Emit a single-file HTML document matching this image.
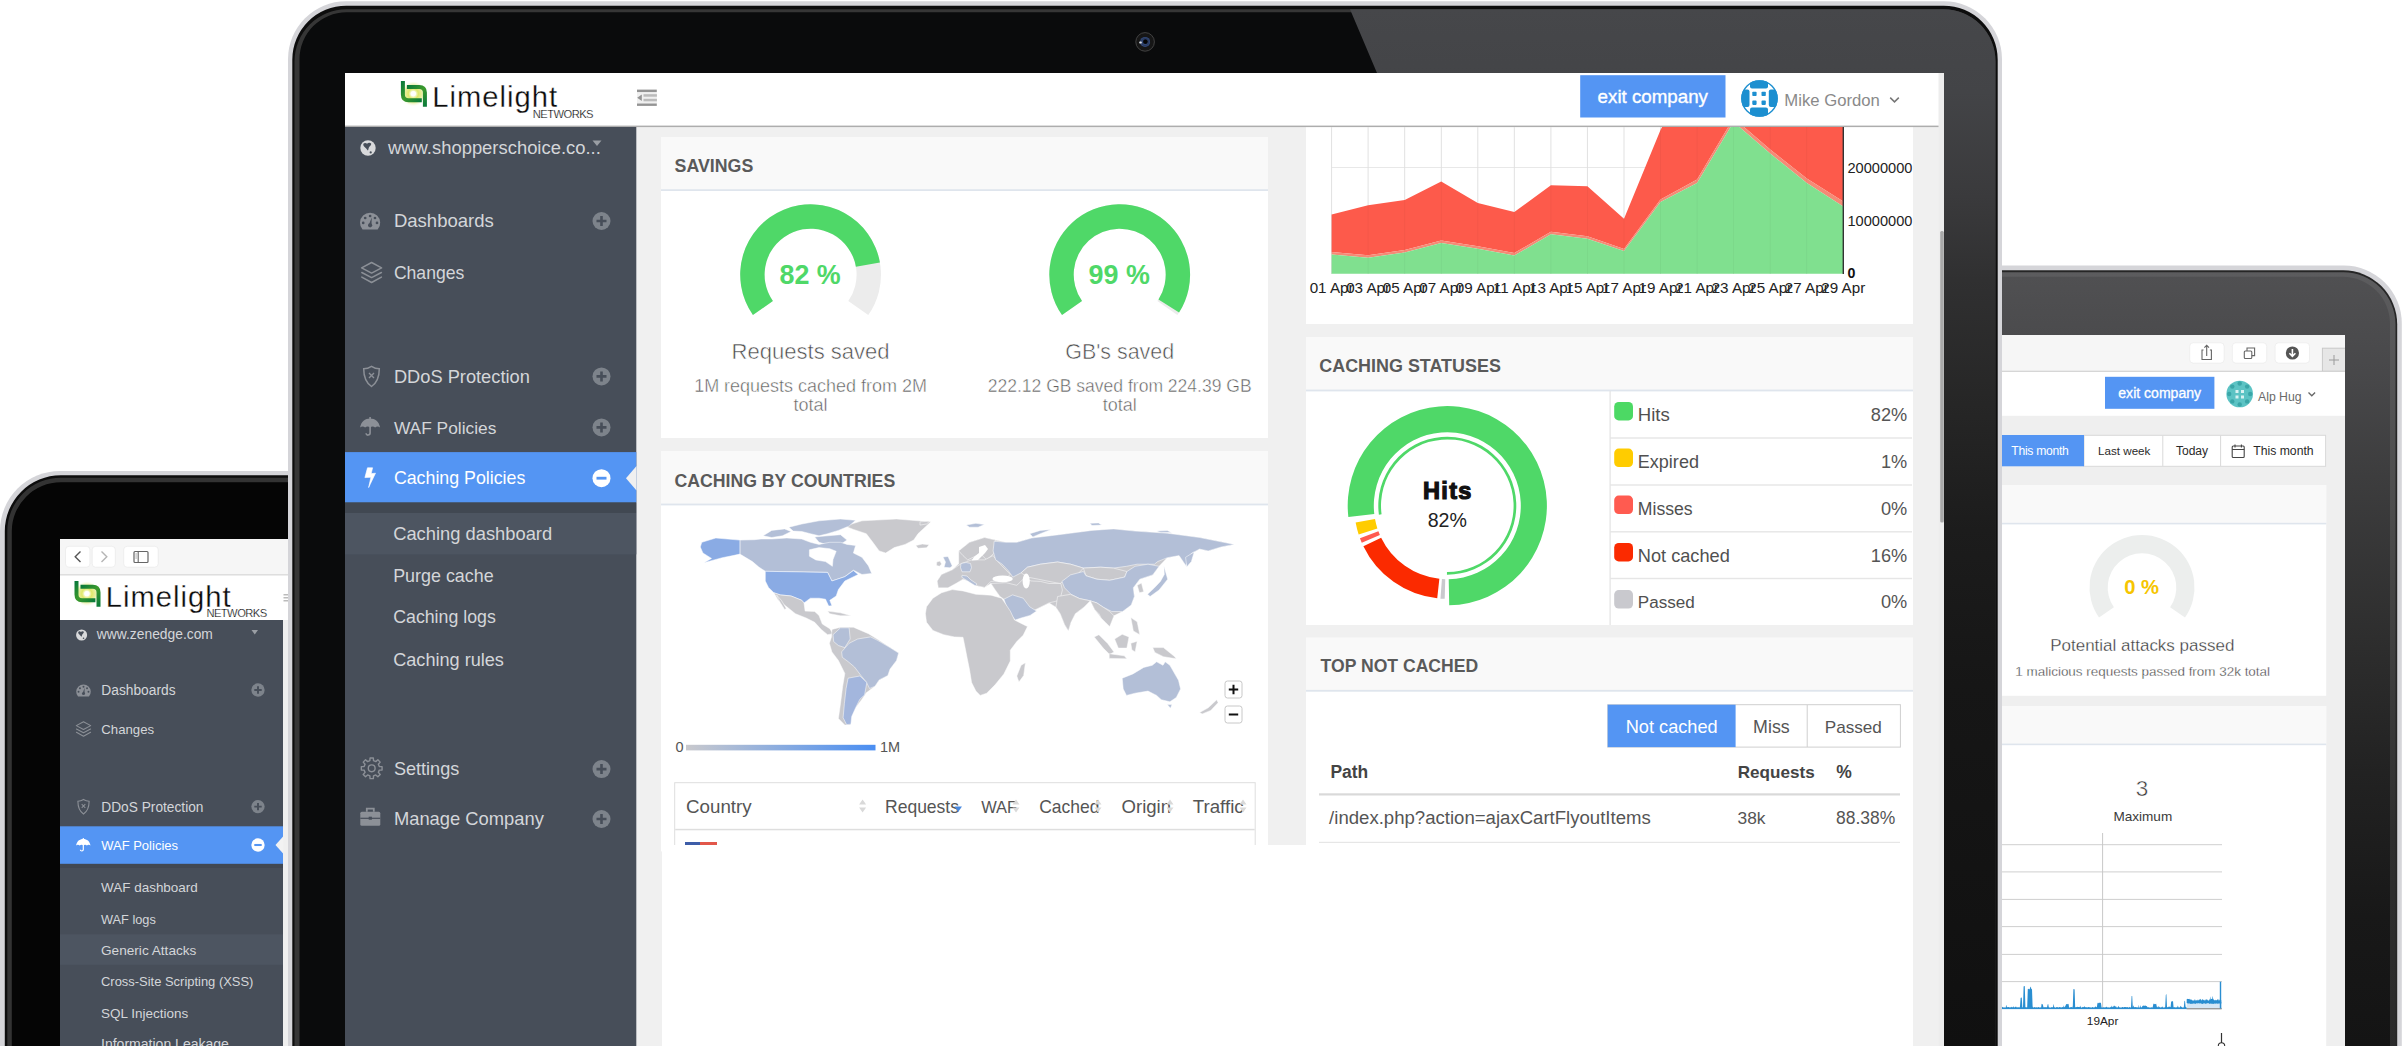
<!DOCTYPE html>
<html lang="en"><head><meta charset="utf-8"><title>Limelight Networks - Caching dashboard</title>
<style>
*{margin:0;padding:0}
html,body{width:2408px;height:1046px;overflow:hidden;background:#fff}
svg{display:block;position:absolute;left:0;top:0}
</style></head><body>
<svg width="2408" height="1046" viewBox="0 0 2408 1046" font-family="'Liberation Sans', Arial, sans-serif">
<defs>
<clipPath id="cLT"><rect x="60" y="539" width="228" height="520"/></clipPath>
<clipPath id="cRT"><rect x="2002" y="335" width="343" height="720"/></clipPath>
<clipPath id="cLP"><rect x="345" y="73" width="1599" height="980"/></clipPath>
<clipPath id="cLPc"><rect x="345" y="127" width="1598" height="920"/></clipPath>
<clipPath id="cChart"><rect x="1306" y="127" width="607" height="200"/></clipPath>
<clipPath id="cPlot"><rect x="1331" y="127" width="513" height="147"/></clipPath>
<linearGradient id="gRTb" x1="0" y1="0" x2="0" y2="1">
 <stop offset="0" stop-color="#505052"/><stop offset="0.12" stop-color="#48484a"/><stop offset="0.25" stop-color="#3d3d3e"/>
 <stop offset="0.45" stop-color="#2e2e2e"/><stop offset="0.62" stop-color="#222"/><stop offset="0.8" stop-color="#181818"/><stop offset="1" stop-color="#131313"/></linearGradient>
<linearGradient id="gRTr" x1="0" y1="0" x2="0" y2="1">
 <stop offset="0" stop-color="#5c5c5e"/><stop offset="0.3" stop-color="#4c4c4c"/><stop offset="0.7" stop-color="#2e2e2e"/><stop offset="1" stop-color="#2a2a2a"/></linearGradient>
<linearGradient id="gLPrefl" x1="0" y1="0" x2="0" y2="1">
 <stop offset="0" stop-color="#46474a"/><stop offset="0.08" stop-color="#434447"/><stop offset="0.18" stop-color="#3a3a3c"/>
 <stop offset="0.26" stop-color="#303031"/><stop offset="0.38" stop-color="#262626"/><stop offset="0.5" stop-color="#1c1c1c"/>
 <stop offset="0.65" stop-color="#161616"/><stop offset="1" stop-color="#101010"/></linearGradient>
<linearGradient id="gLegend" x1="0" y1="0" x2="1" y2="0">
 <stop offset="0" stop-color="#c9c9cd"/><stop offset="1" stop-color="#4a8ef2"/></linearGradient>
<radialGradient id="gLogo" cx="0.5" cy="0.5" r="0.5">
 <stop offset="0" stop-color="#fff"/><stop offset="0.18" stop-color="#fbfde2"/><stop offset="0.4" stop-color="#dfe86a"/>
 <stop offset="0.7" stop-color="#e2ea86" stop-opacity="0.75"/><stop offset="1" stop-color="#f4f7d0" stop-opacity="0"/></radialGradient>
<linearGradient id="gLogoG" x1="0" y1="0" x2="1" y2="1">
 <stop offset="0" stop-color="#0a7a3a"/><stop offset="0.5" stop-color="#3c9a2c"/><stop offset="1" stop-color="#0a7a3a"/></linearGradient>
<radialGradient id="gCam" cx="0.5" cy="0.5" r="0.5">
 <stop offset="0" stop-color="#0c0f18"/><stop offset="0.35" stop-color="#24324f"/><stop offset="0.55" stop-color="#151820"/>
 <stop offset="0.8" stop-color="#2b2b2d"/><stop offset="1" stop-color="#161616"/></radialGradient>
</defs>
<path d="M0,1171 V531 A60,60 0 0 1 60,471 H400 A0,0 0 0 1 400,471 V1171 Z" fill="#d5d5d9" />
<path d="M4.8,1175.3 V531.3 A56,56 0 0 1 60.8,475.3 H400.8 A0,0 0 0 1 400.8,475.3 V1175.3 Z" fill="#0d0d0d" />
<path d="M7.3,1177.8 V531.3 A53.5,53.5 0 0 1 60.8,477.8 H400.3 A0,0 0 0 1 400.3,477.8 V1177.8 Z" fill="#333" />
<path d="M11.8,1182.3 V531.3 A49,49 0 0 1 60.8,482.3 H400.8 A0,0 0 0 1 400.8,482.3 V1182.3 Z" fill="#050505" />
<path d="M1960,1065.5 V265.5 A0,0 0 0 1 1960,265.5 H2343.8 A58,58 0 0 1 2401.8,323.5 V1065.5 Z" fill="#d5d5d9" />
<path d="M1960,1070.3 V270.3 A0,0 0 0 1 1960,270.3 H2343.2 A54,54 0 0 1 2397.2,324.3 V1070.3 Z" fill="#262626" />
<path d="M1960,1072.3 V272.3 A0,0 0 0 1 1960,272.3 H2343.5 A52,52 0 0 1 2395.5,324.3 V1072.3 Z" fill="url(#gRTr)" />
<path d="M1960,1076.8 V276.8 A0,0 0 0 1 1960,276.8 H2343 A47,47 0 0 1 2390,323.8 V1076.8 Z" fill="url(#gRTb)" />
<g clip-path="url(#cLT)">
<rect x="60.0" y="539.0" width="230.0" height="520.0" fill="#efefef"/>
<rect x="60.0" y="539.0" width="230.0" height="36.0" fill="#f6f6f6"/>
<rect x="60.0" y="574.5" width="230.0" height="1.0" fill="#c6c6c6"/>
<rect x="65.5" y="546.3" width="24.4" height="20.9" fill="#fff" rx="3.5" stroke="#e6e6e6" stroke-width="0.6"/>
<rect x="92.2" y="546.3" width="23.1" height="20.9" fill="#fff" rx="3.5" stroke="#e6e6e6" stroke-width="0.6"/>
<rect x="123.7" y="546.3" width="34.5" height="20.9" fill="#fff" rx="3.5" stroke="#e6e6e6" stroke-width="0.6"/>
<path d="M80.5,551.5 L75.2,556.8 L80.5,562.1" fill="none" stroke="#555" stroke-width="1.4"/>
<path d="M101.5,551.5 L106.8,556.8 L101.5,562.1" fill="none" stroke="#b5b5b5" stroke-width="1.4"/>
<rect x="134" y="551.5" width="14" height="11" fill="none" stroke="#666" stroke-width="1.2" rx="1"/>
<path d="M138.2,551.5 V562.5" stroke="#666" stroke-width="1.1"/><path d="M135.3,554 H137 M135.3,556 H137 M135.3,558 H137" stroke="#888" stroke-width="0.7"/>
<rect x="60.0" y="575.5" width="230.0" height="44.5" fill="#fff"/>
<g transform="translate(74.6,580.9) scale(1.0)"><circle cx="12.3" cy="12.8" r="12.5" fill="url(#gLogo)"/><path d="M1.9,0 V13.5 Q1.9,19.3 7.5,19.3 H20.8" fill="none" stroke="url(#gLogoG)" stroke-width="4"/><path d="M5.9,5.9 H18.2 Q23.9,5.9 23.9,11.6 V25.8" fill="none" stroke="url(#gLogoG)" stroke-width="4"/><circle cx="12.3" cy="12.6" r="2.6" fill="#fff" opacity="0.9"/><text x="31.2" y="25.7" font-size="29.20" fill="#0b0b0b" letter-spacing="1.0" stroke="#fff" stroke-width="0.3">Limelight</text><text x="131.8" y="36.6" font-size="11.20" fill="#000" letter-spacing="-0.55" stroke="#fff" stroke-width="0.22">NETWORKS</text></g>
<rect x="283.5" y="594.0" width="4.5" height="1.5" fill="#bbb"/><rect x="283.5" y="597.0" width="4.5" height="1.5" fill="#bbb"/><rect x="283.5" y="600.0" width="4.5" height="1.5" fill="#bbb"/>
<rect x="60.0" y="620.0" width="223.0" height="440.0" fill="#474e59"/>
<g transform="translate(81.6,635.0) scale(0.72)"><circle r="7.7" fill="#d8d9db"/><path d="M-4.6,-4.2 C-3.6,-5.6 -1.8,-5.2 -0.9,-4.2 C0,-5.4 2,-5.6 3.2,-4.4 C3.4,-2.6 1.6,-1.8 0.9,-0.6 C0.3,0.6 0.6,2 -0.2,2.4 C-1.4,1.4 -2.2,0 -3.4,-0.9 C-4.4,-1.8 -5,-3 -4.6,-4.2 Z" fill="#474e59"/><circle cx="2.7" cy="4.4" r="1.1" fill="#474e59"/></g>
<text x="96.8" y="639.3" font-size="13.84" fill="#d4d6d9">www.zenedge.com</text>
<path d="M251.5,630 L258,630 L254.75,634.5 Z" fill="#9a9ea4"/>
<g transform="translate(83.5,691.8) scale(0.72)"><path d="M-7.56,6.7 A10.1,10.1 0 1 1 7.56,6.7 Z" fill="#8c9097"/><circle cx="-6.9" cy="-0.0" r="1.35" fill="#474e59"/><circle cx="-4.9" cy="-4.9" r="1.35" fill="#474e59"/><circle cx="0.0" cy="-6.9" r="1.35" fill="#474e59"/><circle cx="4.9" cy="-4.9" r="1.35" fill="#474e59"/><circle cx="6.9" cy="0.0" r="1.35" fill="#474e59"/><path d="M-1.3,2.2 L1.6,-5.5 L1.4,2.2 Z" fill="#474e59"/><circle cx="0" cy="2.4" r="2.1" fill="#474e59"/></g>
<text x="101.3" y="695.2" font-size="13.78" fill="#d4d6d9">Dashboards</text>
<g transform="translate(258.0,690.0) scale(0.74)"><circle r="9" fill="#7d838b"/><path d="M-5,0 H5 M0,-5 V5" stroke="#474e59" stroke-width="2.6"/></g>
<g transform="translate(83.5,729.0) scale(0.72)"><path d="M-10,-4.7 L0,-10 L10,-4.7 L0,0.6 Z" fill="none" stroke="#8c9097" stroke-width="1.5" stroke-linejoin="round"/><path d="M-9.8,0 L0,5.1 L9.8,0 M-9.8,4.6 L0,10 L9.8,4.6" fill="none" stroke="#8c9097" stroke-width="1.5" stroke-linejoin="round" stroke-linecap="round"/></g>
<text x="101.3" y="734.0" font-size="13.19" fill="#d4d6d9">Changes</text>
<g transform="translate(83.5,806.8) scale(0.72)"><path d="M0,-10.2 C2.8,-8.4 5.4,-7.8 7.8,-7.8 C7.8,2 4.6,6.8 0,10 C-4.6,6.8 -7.8,2 -7.8,-7.8 C-5.4,-7.8 -2.8,-8.4 0,-10.2 Z" fill="none" stroke="#8c9097" stroke-width="1.5"/><path d="M-2.5,-3.6 L2.5,1.4 M2.5,-3.6 L-2.5,1.4" stroke="#8c9097" stroke-width="1.4"/></g>
<text x="101.3" y="811.8" font-size="13.72" fill="#d4d6d9">DDoS Protection</text>
<g transform="translate(258.0,806.6) scale(0.74)"><circle r="9" fill="#7d838b"/><path d="M-5,0 H5 M0,-5 V5" stroke="#474e59" stroke-width="2.6"/></g>
<rect x="60.0" y="826.3" width="223.0" height="37.6" fill="#5495f3"/>
<g transform="translate(83.3,845.5) scale(0.72)"><path d="M-10,0 C-9,-6 -5,-9 0,-9 C5,-9 9,-6 10,0 C8.5,-1.5 6.5,-1.5 5,0 C3.5,-1.5 1.5,-1.5 0,0 C-1.5,-1.5 -3.5,-1.5 -5,0 C-6.5,-1.5 -8.5,-1.5 -10,0 Z" fill="#fff"/><path d="M0,-10.5 V-8.5 M0,-1 V5.6 C0,8.2 -4,8.2 -4,5.8" fill="none" stroke="#fff" stroke-width="1.6"/></g>
<text x="101.2" y="849.9" font-size="13.00" fill="#fff">WAF Policies</text>
<g transform="translate(258.0,845.0) scale(0.74)"><circle r="9" fill="#fff"/><path d="M-5,0 H5" stroke="#5495f3" stroke-width="2.8"/></g>
<path d="M283.5,836 L275.5,845 L283.5,854 Z" fill="#f2f2f2"/>
<rect x="60.0" y="863.9" width="223.0" height="4.0" fill="#414852"/>
<rect x="60.0" y="934.3" width="223.0" height="30.5" fill="#4d5561"/>
<text x="101.0" y="891.9" font-size="13.47" fill="#d4d6d9">WAF dashboard</text>
<text x="101.0" y="923.7" font-size="12.78" fill="#d4d6d9">WAF logs</text>
<text x="101.0" y="954.9" font-size="13.64" fill="#d4d6d9">Generic Attacks</text>
<text x="101.0" y="986.0" font-size="12.94" fill="#d4d6d9">Cross-Site Scripting (XSS)</text>
<text x="101.0" y="1017.7" font-size="13.49" fill="#d4d6d9">SQL Injections</text>
<text x="101.0" y="1048.5" font-size="14.04" fill="#d4d6d9">Information Leakage</text>
</g>
<g clip-path="url(#cRT)">
<rect x="2002.0" y="335.0" width="343.0" height="720.0" fill="#efefef"/>
<rect x="2002.0" y="335.0" width="343.0" height="36.0" fill="#f6f6f6"/>
<rect x="2002.0" y="370.8" width="343.0" height="1.0" fill="#c4c4c4"/>
<rect x="2189.7" y="342.8" width="34.4" height="20.3" fill="#fff" rx="3.5" stroke="#e8e8e8" stroke-width="0.6"/>
<rect x="2232.3" y="342.8" width="34.4" height="20.3" fill="#fff" rx="3.5" stroke="#e8e8e8" stroke-width="0.6"/>
<rect x="2275.1" y="342.8" width="34.4" height="20.3" fill="#fff" rx="3.5" stroke="#e8e8e8" stroke-width="0.6"/>
<path d="M2203.5,350 H2202 V359.5 H2211.4 V350 H2209.9" fill="none" stroke="#666" stroke-width="1.1"/><path d="M2206.7,356 V345.3 M2204.4,347.6 L2206.7,345.3 L2209,347.6" fill="none" stroke="#666" stroke-width="1.1"/>
<rect x="2244.3" y="351" width="7.5" height="7.5" fill="none" stroke="#666" stroke-width="1.1" rx="1"/><path d="M2247,351 V348 H2254.6 V355.6 H2251.8" fill="none" stroke="#666" stroke-width="1.1"/>
<circle cx="2292.4" cy="353.0" r="6.6" fill="#555" /><path d="M2292.4,349 V356 M2289.4,353.3 L2292.4,356.3 L2295.4,353.3" fill="none" stroke="#fff" stroke-width="1.6"/>
<rect x="2322.4" y="348.2" width="24.0" height="23.0" fill="#e6e6e6" stroke="#c8c8c8" stroke-width="1"/>
<path d="M2329,360 H2339 M2334,355 V365" stroke="#9a9a9a" stroke-width="1"/>
<rect x="2002.0" y="371.8" width="343.0" height="44.0" fill="#fff"/>
<rect x="2105.0" y="376.8" width="109.4" height="32.0" fill="#5495f3"/>
<text x="2159.7" y="398.2" font-size="14.05" fill="#fff" text-anchor="middle" stroke="#fff" stroke-width="0.3">exit company</text>
<circle cx="2239.7" cy="394.0" r="13.3" fill="#5cc3c4" />
<circle cx="2250.2" cy="394.0" r="2.2" fill="#3aa6a8" />
<circle cx="2247.1" cy="386.6" r="2.2" fill="#3aa6a8" />
<circle cx="2239.7" cy="383.5" r="2.2" fill="#3aa6a8" />
<circle cx="2232.3" cy="386.6" r="2.2" fill="#3aa6a8" />
<circle cx="2229.2" cy="394.0" r="2.2" fill="#3aa6a8" />
<circle cx="2232.3" cy="401.4" r="2.2" fill="#3aa6a8" />
<circle cx="2239.7" cy="404.5" r="2.2" fill="#3aa6a8" />
<circle cx="2247.1" cy="401.4" r="2.2" fill="#3aa6a8" />
<rect x="2235.5" y="390.0" width="3.0" height="3.0" fill="#d9f2f2"/><rect x="2241.0" y="390.0" width="3.0" height="3.0" fill="#d9f2f2"/><rect x="2235.5" y="395.5" width="3.0" height="3.0" fill="#d9f2f2"/><rect x="2241.0" y="395.5" width="3.0" height="3.0" fill="#d9f2f2"/>
<text x="2258.0" y="401.2" font-size="12.25" fill="#6a6a6a">Alp Hug</text>
<path d="M2308.5,392.5 L2311.8,395.8 L2315.1,392.5" fill="none" stroke="#666" stroke-width="1.3"/>
<rect x="2084.0" y="435.3" width="241.6" height="31.0" fill="#fff" stroke="#d9d9d9" stroke-width="1"/>
<rect x="2002.0" y="435.0" width="82.0" height="31.3" fill="#5495f3"/>
<rect x="2162.3" y="435.5" width="1.0" height="30.5" fill="#d9d9d9"/><rect x="2220.1" y="435.5" width="1.0" height="30.5" fill="#d9d9d9"/>
<text x="2011.3" y="455.2" font-size="12.17" fill="#fff" letter-spacing="-0.3">This month</text>
<text x="2098.1" y="455.2" font-size="11.62" fill="#2a2a2a">Last week</text>
<text x="2175.9" y="455.2" font-size="12.07" fill="#2a2a2a">Today</text>
<text x="2253.2" y="455.2" font-size="12.23" fill="#2a2a2a">This month</text>
<rect x="2232.2" y="446" width="12" height="11.5" fill="none" stroke="#444" stroke-width="1.1" rx="1"/><path d="M2232.2,449.5 H2244.2 M2235,444.5 V447.5 M2241.4,444.5 V447.5" stroke="#444" stroke-width="1.1"/>
<rect x="2002.0" y="485.0" width="324.2" height="210.8" fill="#fff"/>
<rect x="2002.0" y="485.0" width="324.2" height="38.0" fill="#f9f9f9"/>
<rect x="2002.0" y="522.8" width="324.2" height="1.6" fill="#dfe5ed"/>
<path d="M2098.99,617.61 A52.5,52.5 0 1 1 2185.01,617.61 L2170.10,607.17 A34.3,34.3 0 1 0 2113.90,607.17 Z" fill="#eceeed" />
<text x="2141.7" y="594.3" font-size="20.25" fill="#f6c500" font-weight="bold" text-anchor="middle">0 %</text>
<text x="2142.3" y="650.8" font-size="16.99" fill="#3a3a3a" text-anchor="middle" stroke="#fff" stroke-width="0.3">Potential attacks passed</text>
<text x="2142.7" y="675.7" font-size="13.45" fill="#3a3a3a" text-anchor="middle" stroke="#fff" stroke-width="0.3">1 malicious requests passed from 32k total</text>
<rect x="2002.0" y="706.0" width="324.2" height="360.0" fill="#fff"/>
<rect x="2002.0" y="706.0" width="324.2" height="38.0" fill="#f9f9f9"/>
<rect x="2002.0" y="743.6" width="324.2" height="1.6" fill="#dfe5ed"/>
<text x="2142.0" y="795.6" font-size="22.50" fill="#333" text-anchor="middle" stroke="#fff" stroke-width="0.5">3</text>
<text x="2142.8" y="821.3" font-size="13.57" fill="#3a3a3a" text-anchor="middle">Maximum</text>
<rect x="2002.0" y="844.2" width="220.0" height="1.0" fill="#cfcfcf"/>
<rect x="2002.0" y="871.4" width="220.0" height="1.0" fill="#cfcfcf"/>
<rect x="2002.0" y="898.9" width="220.0" height="1.0" fill="#cfcfcf"/>
<rect x="2002.0" y="926.1" width="220.0" height="1.0" fill="#cfcfcf"/>
<rect x="2002.0" y="953.9" width="220.0" height="1.0" fill="#cfcfcf"/>
<rect x="2002.0" y="981.1" width="220.0" height="1.0" fill="#cfcfcf"/>
<rect x="2102.1" y="833.0" width="1.0" height="175.5" fill="#c8c8c8"/>
<rect x="2002.0" y="1007.7" width="220.0" height="1.2" fill="#bcbcbc"/>
<polygon points="2002.0,1008.5 2002.0,1007.7 2002.6,1006.8 2003.2,1007.6 2003.8,1008.2 2004.4,1007.4 2005.0,1008.3 2005.6,1008.3 2006.2,1004.8 2006.8,1006.8 2007.4,1007.4 2008.0,1007.1 2008.6,1006.9 2009.2,1007.7 2009.8,1007.6 2010.4,1007.6 2011.0,1007.7 2011.6,1006.7 2012.2,1007.0 2012.8,1007.9 2013.4,1006.1 2014.0,1007.8 2014.6,1007.8 2015.2,1006.5 2015.8,1006.9 2016.4,1006.7 2017.0,1008.4 2017.6,1007.1 2018.2,1008.3 2018.8,1006.8 2019.4,1008.3 2020.0,1006.3 2020.6,997.9 2021.2,997.6 2021.8,997.7 2022.4,1008.0 2023.0,1007.1 2023.6,986.4 2024.2,986.1 2024.8,986.3 2025.4,1007.1 2026.0,1007.7 2026.6,1007.5 2027.2,1007.4 2027.8,989.0 2028.4,988.7 2029.0,989.3 2029.6,989.2 2030.2,987.4 2030.8,986.5 2031.4,989.2 2032.0,989.1 2032.6,1006.2 2033.2,1008.4 2033.8,1007.5 2034.4,1007.4 2035.0,1006.8 2035.6,1008.5 2036.2,1007.3 2036.8,1007.8 2037.4,1008.3 2038.0,1006.9 2038.6,1007.3 2039.2,1007.4 2039.8,1008.5 2040.4,1007.2 2041.0,1008.5 2041.6,1003.8 2042.2,1004.2 2042.8,1004.2 2043.4,1007.1 2044.0,1007.9 2044.6,1006.9 2045.2,1007.7 2045.8,1006.9 2046.4,1007.4 2047.0,1007.5 2047.6,1004.5 2048.2,1003.9 2048.8,1007.2 2049.4,1007.7 2050.0,1008.3 2050.6,1008.4 2051.2,1007.6 2051.8,1007.2 2052.4,1007.4 2053.0,1007.3 2053.6,1003.7 2054.2,1006.9 2054.8,1007.7 2055.4,1007.9 2056.0,1008.1 2056.6,1007.0 2057.2,1006.9 2057.8,1007.5 2058.4,1008.3 2059.0,1007.0 2059.6,1007.2 2060.2,1006.9 2060.8,1008.0 2061.4,1007.8 2062.0,1007.6 2062.6,1007.0 2063.2,1007.6 2063.8,1005.2 2064.4,1007.5 2065.0,1006.7 2065.6,1005.6 2066.2,1004.1 2066.8,1004.2 2067.4,1004.2 2068.0,1003.7 2068.6,1004.2 2069.2,1008.2 2069.8,1007.9 2070.4,1007.6 2071.0,1007.1 2071.6,1007.1 2072.2,1008.3 2072.8,1006.1 2073.4,988.9 2074.0,989.3 2074.6,989.2 2075.2,1008.1 2075.8,1007.0 2076.4,1007.2 2077.0,1006.9 2077.6,1006.7 2078.2,1007.1 2078.8,1006.9 2079.4,1006.8 2080.0,1007.5 2080.6,1005.6 2081.2,1008.4 2081.8,1008.2 2082.4,1006.7 2083.0,1007.6 2083.6,1007.0 2084.2,1006.8 2084.8,1006.2 2085.4,1007.6 2086.0,1007.2 2086.6,1007.6 2087.2,1007.5 2087.8,1007.8 2088.4,1006.9 2089.0,1007.0 2089.6,1007.6 2090.2,1008.1 2090.8,1007.6 2091.4,1008.5 2092.0,1007.6 2092.6,1007.1 2093.2,1007.6 2093.8,1008.4 2094.4,1007.8 2095.0,1006.8 2095.6,1006.6 2096.2,1007.0 2096.8,1007.6 2097.4,1003.4 2098.0,1002.5 2098.6,1003.2 2099.2,1003.1 2099.8,1002.6 2100.4,1002.7 2101.0,1002.9 2101.6,1007.8 2102.2,1008.2 2102.8,1007.4 2103.4,1007.5 2104.0,1007.4 2104.6,1008.1 2105.2,1007.0 2105.8,1007.9 2106.4,1006.8 2107.0,1006.7 2107.6,1008.3 2108.2,1007.2 2108.8,1008.3 2109.4,1007.7 2110.0,1008.3 2110.6,1006.8 2111.2,1007.3 2111.8,1005.5 2112.4,1007.1 2113.0,1007.3 2113.6,1006.1 2114.2,1005.6 2114.8,1006.3 2115.4,1006.7 2116.0,1005.9 2116.6,1007.7 2117.2,1007.9 2117.8,1007.6 2118.4,1005.7 2119.0,1007.0 2119.6,1007.7 2120.2,1007.8 2120.8,1008.2 2121.4,1008.5 2122.0,1007.1 2122.6,1007.0 2123.2,1007.8 2123.8,1007.6 2124.4,1007.1 2125.0,1006.9 2125.6,1007.1 2126.2,1007.8 2126.8,1006.9 2127.4,1007.1 2128.0,1007.8 2128.6,1008.4 2129.2,1006.8 2129.8,1007.4 2130.4,1008.1 2131.0,1007.3 2131.6,996.0 2132.2,996.1 2132.8,1007.2 2133.4,1005.2 2134.0,1007.2 2134.6,1007.3 2135.2,1007.2 2135.8,1006.9 2136.4,1007.6 2137.0,1007.5 2137.6,1007.4 2138.2,1008.4 2138.8,1004.8 2139.4,1008.2 2140.0,1008.2 2140.6,1005.0 2141.2,1007.7 2141.8,1007.4 2142.4,1006.1 2143.0,1005.8 2143.6,1005.5 2144.2,1005.9 2144.8,1005.6 2145.4,1005.6 2146.0,1006.0 2146.6,1006.0 2147.2,1006.8 2147.8,1007.7 2148.4,1007.0 2149.0,1008.3 2149.6,1007.7 2150.2,1008.4 2150.8,1008.3 2151.4,1007.3 2152.0,1008.0 2152.6,1007.7 2153.2,1004.5 2153.8,1003.6 2154.4,1004.1 2155.0,1004.2 2155.6,1004.1 2156.2,1003.7 2156.8,1006.7 2157.4,1006.8 2158.0,1008.0 2158.6,1006.0 2159.2,1006.7 2159.8,1007.5 2160.4,1007.8 2161.0,1008.1 2161.6,1007.2 2162.2,1006.3 2162.8,1007.4 2163.4,1008.1 2164.0,1008.0 2164.6,1007.8 2165.2,1006.7 2165.8,994.9 2166.4,994.1 2167.0,1006.7 2167.6,1007.5 2168.2,1007.3 2168.8,1006.6 2169.4,1006.5 2170.0,1007.2 2170.6,1007.1 2171.2,1000.9 2171.8,1001.7 2172.4,1001.2 2173.0,1001.1 2173.6,1007.8 2174.2,1006.9 2174.8,1007.8 2175.4,1007.8 2176.0,1007.8 2176.6,1007.5 2177.2,1007.5 2177.8,1005.6 2178.4,1006.9 2179.0,1008.5 2179.6,1007.5 2180.2,1006.8 2180.8,1005.7 2181.4,1006.9 2182.0,1007.2 2182.6,1008.3 2183.2,1008.2 2183.8,1007.3 2184.4,1001.0 2185.0,1000.8 2185.6,1006.8 2186.2,1007.6 2186.5,1008.5" fill="#2a8ed1" />
<rect x="2002.0" y="1007.6" width="185.0" height="1.5" fill="#2a8ed1"/>
<rect x="2186.7" y="1002.0" width="35.0" height="6.5" fill="#d5e7f6"/>
<polygon points="2186.7,1003.0 2186.7,999.2 2187.2,998.8 2187.7,999.0 2188.2,998.9 2188.7,999.0 2189.2,998.7 2189.7,999.6 2190.2,999.0 2190.7,999.9 2191.2,999.2 2191.7,1000.0 2192.2,1000.4 2192.7,1000.2 2193.2,1000.7 2193.7,1000.5 2194.2,999.1 2194.7,1000.7 2195.2,999.5 2195.7,1000.7 2196.2,1000.4 2196.7,1000.3 2197.2,999.5 2197.7,1000.4 2198.2,1000.4 2198.7,1000.1 2199.2,999.0 2199.7,1000.2 2200.2,998.8 2200.7,999.6 2201.2,999.7 2201.7,1000.7 2202.2,999.0 2202.7,999.6 2203.2,1000.2 2203.7,999.4 2204.2,1000.8 2204.7,1000.0 2205.2,999.2 2205.7,1000.5 2206.2,1000.1 2206.7,998.9 2207.2,999.4 2207.7,1000.2 2208.2,1000.5 2208.7,1000.8 2209.2,998.9 2209.7,1000.6 2210.2,996.2 2210.7,999.7 2211.2,998.7 2211.7,998.9 2212.2,999.1 2212.7,995.8 2213.2,999.0 2213.7,999.6 2214.2,1000.5 2214.7,1000.1 2215.2,1000.6 2215.7,999.8 2216.2,1000.0 2216.7,1000.6 2217.2,999.8 2217.7,999.0 2218.2,1000.8 2218.7,999.2 2219.2,999.6 2219.7,1000.8 2220.2,999.0 2220.7,999.4 2221.2,1000.0 2221.4,1003.5 2220.5,1003.4 2219.6,1003.5 2218.7,1003.5 2217.8,1003.7 2216.9,1003.4 2216.0,1003.4 2215.1,1003.8 2214.2,1003.5 2213.3,1004.0 2212.4,1003.7 2211.5,1003.8 2210.6,1003.5 2209.7,1003.9 2208.8,1003.3 2207.9,1003.3 2207.0,1003.3 2206.1,1003.7 2205.2,1003.8 2204.3,1003.3 2203.4,1003.5 2202.5,1003.9 2201.6,1003.7 2200.7,1003.3 2199.8,1003.4 2198.9,1003.3 2198.0,1003.3 2197.1,1003.5 2196.2,1003.3 2195.3,1003.9 2194.4,1003.5 2193.5,1003.6 2192.6,1003.7 2191.7,1003.8 2190.8,1003.9 2189.9,1003.5 2189.0,1003.5 2188.1,1003.5 2187.2,1003.2" fill="#2a8ed1" />
<rect x="2186.7" y="1008.0" width="35.0" height="1.4" fill="#9a9a9a"/>
<rect x="2219.8" y="981.7" width="1.4" height="26.8" fill="#2a8ed1"/>
<text x="2102.6" y="1025.2" font-size="11.80" fill="#222" text-anchor="middle">19Apr</text>
<rect x="2220.9" y="1033.0" width="1.2" height="10.0" fill="#333"/><circle cx="2221.5" cy="1046.0" r="3.2" fill="none" stroke="#333" stroke-width="1.1"/>
</g>
<path d="M288,1101.3 V59.3 A58,58 0 0 1 346,1.3 H1944 A58,58 0 0 1 2002,59.3 V1101.3 Z" fill="#d5d5d9" />
<path d="M292.3,1105.7 V59.7 A54,54 0 0 1 346.3,5.7 H1943.7 A54,54 0 0 1 1997.7,59.7 V1105.7 Z" fill="#0d0d0d" />
<path d="M294.5,1109.3 V61.3 A52,52 0 0 1 346.5,9.3 H1943.5 A52,52 0 0 1 1995.5,61.3 V1109.3 Z" fill="#363636" />
<path d="M299.5,1112.3 V59.3 A47,47 0 0 1 346.5,12.3 H1943.5 A47,47 0 0 1 1990.5,59.3 V1112.3 Z" fill="#0a0b0c" />
<path d="M1350,9.3 H1943.5 A52,52 0 0 1 1995.5,61.3 V1050 H1944 V73 H1377 Z" fill="url(#gLPrefl)" />
<circle cx="1145.1" cy="41.9" r="9.3" fill="#161616" stroke="#474747" stroke-width="0.9"/><circle cx="1145.1" cy="41.9" r="5.0" fill="#30487a" /><circle cx="1145.4" cy="41.7" r="2.4" fill="#040404" /><circle cx="1145.1" cy="41.9" r="3.7" fill="none" stroke="#2a3550" stroke-width="0.8"/><rect x="1139.2" y="41.6" width="2.6" height="1.8" fill="#d8dde6" rx="0.6"/>
<g clip-path="url(#cLP)">
<rect x="345.0" y="73.0" width="1599.0" height="980.0" fill="#f0f0f0"/>
<rect x="661.0" y="137.0" width="607.0" height="301.0" fill="#fff"/><rect x="661.0" y="137.0" width="607.0" height="52.5" fill="#f9f9f9"/><rect x="661.0" y="189.2" width="607.0" height="1.8" fill="#dfe5ed"/>
<rect x="661.0" y="451.4" width="607.0" height="400.0" fill="#fff"/><rect x="661.0" y="451.4" width="607.0" height="52.5" fill="#f9f9f9"/><rect x="661.0" y="503.6" width="607.0" height="1.8" fill="#dfe5ed"/>
<rect x="1306.0" y="60.0" width="607.0" height="264.0" fill="#fff"/><rect x="1306.0" y="60.0" width="607.0" height="0.0" fill="#f9f9f9"/><rect x="1306.0" y="59.7" width="607.0" height="1.8" fill="#dfe5ed"/>
<rect x="1306.0" y="337.4" width="607.0" height="287.6" fill="#fff"/><rect x="1306.0" y="337.4" width="607.0" height="52.5" fill="#f9f9f9"/><rect x="1306.0" y="389.6" width="607.0" height="1.8" fill="#dfe5ed"/>
<rect x="1306.0" y="637.7" width="607.0" height="220.0" fill="#fff"/><rect x="1306.0" y="637.7" width="607.0" height="52.5" fill="#f9f9f9"/><rect x="1306.0" y="689.9" width="607.0" height="1.8" fill="#dfe5ed"/>
<rect x="662.0" y="845.0" width="1251.0" height="210.0" fill="#fff"/>
<rect x="345.0" y="73.0" width="1599.0" height="53.0" fill="#fff"/>
<rect x="345.0" y="125.6" width="1599.0" height="1.5" fill="#adadad"/>
<g transform="translate(401,81) scale(1.0)"><circle cx="12.3" cy="12.8" r="12.5" fill="url(#gLogo)"/><path d="M1.9,0 V13.5 Q1.9,19.3 7.5,19.3 H20.8" fill="none" stroke="url(#gLogoG)" stroke-width="4"/><path d="M5.9,5.9 H18.2 Q23.9,5.9 23.9,11.6 V25.8" fill="none" stroke="url(#gLogoG)" stroke-width="4"/><circle cx="12.3" cy="12.6" r="2.6" fill="#fff" opacity="0.9"/><text x="31.2" y="25.7" font-size="29.20" fill="#0b0b0b" letter-spacing="1.0" stroke="#fff" stroke-width="0.3">Limelight</text><text x="131.8" y="36.6" font-size="11.20" fill="#000" letter-spacing="-0.55" stroke="#fff" stroke-width="0.22">NETWORKS</text></g>
<rect x="637.0" y="89.6" width="19.8" height="2.5" fill="#949494"/><rect x="643.5" y="94.2" width="13.3" height="2.5" fill="#949494"/><rect x="643.5" y="98.8" width="13.3" height="2.5" fill="#949494"/><rect x="637.0" y="103.4" width="19.8" height="2.5" fill="#949494"/><rect x="637.0" y="92.1" width="19.8" height="11.3" fill="#e2e2e2" opacity="0.5"/>
<path d="M641.8,94.6 L637.2,97.8 L641.8,101 Z" fill="#949494"/>
<rect x="1580.2" y="75.2" width="145.3" height="42.3" fill="#5495f3"/>
<text x="1652.8" y="102.6" font-size="18.74" fill="#fff" text-anchor="middle" stroke="#fff" stroke-width="0.35">exit company</text>
<clipPath id="cAv"><circle cx="1759.5" cy="98.5" r="18.3"/></clipPath>
<circle cx="1759.5" cy="98.5" r="17.6" fill="#fff" stroke="#1c8fd0" stroke-width="1.4"/>
<g clip-path="url(#cAv)"><rect x="1750.0" y="79.0" width="18.0" height="9.5" fill="#1c8fd0" rx="2"/><rect x="1750.0" y="107.5" width="18.0" height="11.0" fill="#1c8fd0" rx="2"/><rect x="1740.0" y="89.5" width="9.5" height="17.5" fill="#1c8fd0" rx="2"/><rect x="1768.8" y="89.5" width="10.5" height="17.5" fill="#1c8fd0" rx="2"/></g>
<rect x="1752.3" y="91.7" width="4.3" height="4.3" fill="#1c8fd0" rx="0.8"/>
<rect x="1752.3" y="100.6" width="4.3" height="4.3" fill="#1c8fd0" rx="0.8"/>
<rect x="1761.5" y="91.7" width="4.3" height="4.3" fill="#1c8fd0" rx="0.8"/>
<rect x="1761.5" y="100.6" width="4.3" height="4.3" fill="#1c8fd0" rx="0.8"/>
<text x="1784.3" y="105.6" font-size="16.70" fill="#8a8a8a">Mike Gordon</text>
<path d="M1890.2,97.6 L1894.5,101.9 L1898.8,97.6" fill="none" stroke="#777" stroke-width="1.5"/>
<rect x="1938.5" y="73.0" width="5.5" height="980.0" fill="#ededed"/>
<rect x="1940.2" y="231.0" width="3.6" height="291.4" fill="#a9a9a9" rx="1.5"/>
<rect x="345.0" y="127.0" width="291.3" height="930.0" fill="#474e59"/>
<g transform="translate(368.0,148.0) scale(1.0)"><circle r="7.7" fill="#d8d9db"/><path d="M-4.6,-4.2 C-3.6,-5.6 -1.8,-5.2 -0.9,-4.2 C0,-5.4 2,-5.6 3.2,-4.4 C3.4,-2.6 1.6,-1.8 0.9,-0.6 C0.3,0.6 0.6,2 -0.2,2.4 C-1.4,1.4 -2.2,0 -3.4,-0.9 C-4.4,-1.8 -5,-3 -4.6,-4.2 Z" fill="#474e59"/><circle cx="2.7" cy="4.4" r="1.1" fill="#474e59"/></g>
<text x="388.0" y="154.0" font-size="18.42" fill="#d4d6d9">www.shopperschoice.co...</text>
<path d="M592.5,140.6 L601.5,140.6 L597,146 Z" fill="#9a9ea4"/>
<g transform="translate(370.1,222.9) scale(1.0)"><path d="M-7.56,6.7 A10.1,10.1 0 1 1 7.56,6.7 Z" fill="#8c9097"/><circle cx="-6.9" cy="-0.0" r="1.35" fill="#474e59"/><circle cx="-4.9" cy="-4.9" r="1.35" fill="#474e59"/><circle cx="0.0" cy="-6.9" r="1.35" fill="#474e59"/><circle cx="4.9" cy="-4.9" r="1.35" fill="#474e59"/><circle cx="6.9" cy="0.0" r="1.35" fill="#474e59"/><path d="M-1.3,2.2 L1.6,-5.5 L1.4,2.2 Z" fill="#474e59"/><circle cx="0" cy="2.4" r="2.1" fill="#474e59"/></g>
<text x="393.9" y="227.3" font-size="18.55" fill="#d4d6d9">Dashboards</text>
<g transform="translate(601.5,221.0) scale(1.0)"><circle r="9" fill="#7d838b"/><path d="M-5,0 H5 M0,-5 V5" stroke="#474e59" stroke-width="2.6"/></g>
<g transform="translate(371.6,272.5) scale(1.0)"><path d="M-10,-4.7 L0,-10 L10,-4.7 L0,0.6 Z" fill="none" stroke="#8c9097" stroke-width="1.5" stroke-linejoin="round"/><path d="M-9.8,0 L0,5.1 L9.8,0 M-9.8,4.6 L0,10 L9.8,4.6" fill="none" stroke="#8c9097" stroke-width="1.5" stroke-linejoin="round" stroke-linecap="round"/></g>
<text x="393.9" y="278.7" font-size="17.59" fill="#d4d6d9">Changes</text>
<g transform="translate(371.5,376.5) scale(1.0)"><path d="M0,-10.2 C2.8,-8.4 5.4,-7.8 7.8,-7.8 C7.8,2 4.6,6.8 0,10 C-4.6,6.8 -7.8,2 -7.8,-7.8 C-5.4,-7.8 -2.8,-8.4 0,-10.2 Z" fill="none" stroke="#8c9097" stroke-width="1.5"/><path d="M-2.5,-3.6 L2.5,1.4 M2.5,-3.6 L-2.5,1.4" stroke="#8c9097" stroke-width="1.4"/></g>
<text x="393.9" y="382.7" font-size="18.26" fill="#d4d6d9">DDoS Protection</text>
<g transform="translate(601.5,376.4) scale(1.0)"><circle r="9" fill="#7d838b"/><path d="M-5,0 H5 M0,-5 V5" stroke="#474e59" stroke-width="2.6"/></g>
<g transform="translate(370.1,427.5) scale(1.0)"><path d="M-10,0 C-9,-6 -5,-9 0,-9 C5,-9 9,-6 10,0 C8.5,-1.5 6.5,-1.5 5,0 C3.5,-1.5 1.5,-1.5 0,0 C-1.5,-1.5 -3.5,-1.5 -5,0 C-6.5,-1.5 -8.5,-1.5 -10,0 Z" fill="#8c9097"/><path d="M0,-10.5 V-8.5 M0,-1 V5.6 C0,8.2 -4,8.2 -4,5.8" fill="none" stroke="#8c9097" stroke-width="1.6"/></g>
<text x="393.9" y="433.7" font-size="17.35" fill="#d4d6d9">WAF Policies</text>
<g transform="translate(601.5,427.4) scale(1.0)"><circle r="9" fill="#7d838b"/><path d="M-5,0 H5 M0,-5 V5" stroke="#474e59" stroke-width="2.6"/></g>
<g transform="translate(371.7,768.3) scale(1.0)"><path d="M10.37,1.64 L10.37,-1.64 L7.58,-1.82 L6.65,-4.08 L8.49,-6.17 L6.17,-8.49 L4.08,-6.65 L1.82,-7.58 L1.64,-10.37 L-1.64,-10.37 L-1.82,-7.58 L-4.08,-6.65 L-6.17,-8.49 L-8.49,-6.17 L-6.65,-4.08 L-7.58,-1.82 L-10.37,-1.64 L-10.37,1.64 L-7.58,1.82 L-6.65,4.08 L-8.49,6.17 L-6.17,8.49 L-4.08,6.65 L-1.82,7.58 L-1.64,10.37 L1.64,10.37 L1.82,7.58 L4.08,6.65 L6.17,8.49 L8.49,6.17 L6.65,4.08 L7.58,1.82 Z" fill="none" stroke="#8c9097" stroke-width="1.4" stroke-linejoin="round"/><circle r="3.4" fill="none" stroke="#8c9097" stroke-width="1.4"/></g>
<text x="393.9" y="775.4" font-size="18.10" fill="#d4d6d9">Settings</text>
<g transform="translate(601.5,769.1) scale(1.0)"><circle r="9" fill="#7d838b"/><path d="M-5,0 H5 M0,-5 V5" stroke="#474e59" stroke-width="2.6"/></g>
<g transform="translate(370.3,817.7) scale(1.0)"><rect x="-10" y="-6" width="20" height="14" rx="1.5" fill="#8c9097"/><path d="M-3.5,-6 V-9 H3.5 V-6" fill="none" stroke="#8c9097" stroke-width="1.8"/><rect x="-10" y="0" width="20" height="1.2" fill="#474e59"/><rect x="-1.6" y="-1" width="3.2" height="3" fill="#474e59"/></g>
<text x="393.9" y="825.3" font-size="18.36" fill="#d4d6d9">Manage Company</text>
<g transform="translate(601.5,819.0) scale(1.0)"><circle r="9" fill="#7d838b"/><path d="M-5,0 H5 M0,-5 V5" stroke="#474e59" stroke-width="2.6"/></g>
<rect x="345.0" y="452.1" width="291.3" height="50.4" fill="#5495f3"/>
<g transform="translate(370.5,478.0) scale(1.0)"><path d="M-3,-10.2 L2.1,-10.2 L0.7,-4.4 L5,-4.8 L-1.9,9.6 L0.4,-0.7 L-5.6,-0.4 Z" fill="#fff" stroke="#fff" stroke-width="0.6" stroke-linejoin="round"/></g>
<text x="393.9" y="484.2" font-size="17.79" fill="#fff">Caching Policies</text>
<g transform="translate(601.5,478.2) scale(1.0)"><circle r="9" fill="#fff"/><path d="M-5,0 H5" stroke="#5495f3" stroke-width="2.8"/></g>
<path d="M636.5,466 L626,478.3 L636.5,490.6 Z" fill="#f0f0f0"/>
<rect x="345.0" y="502.5" width="291.3" height="10.5" fill="#414852"/>
<rect x="345.0" y="513.0" width="291.3" height="41.4" fill="#4d5561"/>
<text x="393.2" y="539.6" font-size="18.33" fill="#d4d6d9">Caching dashboard</text>
<text x="393.2" y="581.6" font-size="17.90" fill="#d4d6d9">Purge cache</text>
<text x="393.2" y="623.2" font-size="17.75" fill="#d4d6d9">Caching logs</text>
<text x="393.2" y="665.9" font-size="18.12" fill="#d4d6d9">Caching rules</text>
<text x="674.6" y="172.4" font-size="17.78" fill="#5a5a5a" font-weight="bold">SAVINGS</text>
<path d="M752.93,315.08 A70.4,70.4 0 1 1 868.27,315.08 L848.28,301.08 A46,46 0 1 0 772.92,301.08 Z" fill="#ececec" />
<path d="M752.93,315.08 A70.4,70.4 0 1 1 879.93,262.48 L855.90,266.71 A46,46 0 1 0 772.92,301.08 Z" fill="#4fd868" />
<text x="810.1" y="283.9" font-size="26.89" fill="#4fd868" font-weight="bold" text-anchor="middle">82 %</text>
<text x="810.6" y="359.2" font-size="22.06" fill="#4a4a4a" text-anchor="middle" stroke="#fff" stroke-width="0.55">Requests saved</text>
<text x="810.6" y="391.8" font-size="17.99" fill="#5e5e5e" text-anchor="middle" stroke="#fff" stroke-width="0.45">1M requests cached from 2M</text>
<text x="810.6" y="411.2" font-size="18.00" fill="#5e5e5e" text-anchor="middle" stroke="#fff" stroke-width="0.45">total</text>
<path d="M1062.03,315.08 A70.4,70.4 0 1 1 1177.37,315.08 L1157.38,301.08 A46,46 0 1 0 1082.02,301.08 Z" fill="#ececec" />
<path d="M1062.03,315.08 A70.4,70.4 0 1 1 1179.07,312.53 L1158.50,299.42 A46,46 0 1 0 1082.02,301.08 Z" fill="#4fd868" />
<text x="1119.2" y="283.9" font-size="26.89" fill="#4fd868" font-weight="bold" text-anchor="middle">99 %</text>
<text x="1119.7" y="359.2" font-size="21.45" fill="#4a4a4a" text-anchor="middle" stroke="#fff" stroke-width="0.55">GB's saved</text>
<text x="1119.7" y="391.8" font-size="17.52" fill="#5e5e5e" text-anchor="middle" stroke="#fff" stroke-width="0.45">222.12 GB saved from 224.39 GB</text>
<text x="1119.7" y="411.2" font-size="18.00" fill="#5e5e5e" text-anchor="middle" stroke="#fff" stroke-width="0.45">total</text>
<text x="674.4" y="486.5" font-size="17.70" fill="#5a5a5a" font-weight="bold">CACHING BY COUNTRIES</text>
<polygon points="844.8,526.1 862.0,520.8 896.5,519.0 930.9,521.8 918.0,533.7 913.7,540.1 905.1,544.4 894.3,547.6 885.7,553.0 879.2,550.9 872.8,542.3 866.3,533.7 853.4,529.4" fill="#c9c9cd" stroke="#fff" stroke-width="0.5" stroke-linejoin="round"/>
<polygon points="915.8,545.5 922.3,544.0 929.1,544.8 926.6,547.8 918.0,548.3" fill="#c9c9cd" stroke="#fff" stroke-width="0.5" stroke-linejoin="round"/>
<polygon points="763.1,535.8 771.7,530.4 784.6,528.9 791.1,531.5 782.5,535.8 771.7,537.5" fill="#b3bfd7" stroke="#fff" stroke-width="0.5" stroke-linejoin="round"/>
<polygon points="788.9,527.2 801.8,524.0 819.0,520.8 840.5,519.0 855.6,520.3 849.1,526.1 838.4,530.4 827.6,533.7 819.0,535.8 810.4,533.7 801.8,531.5 793.2,531.1" fill="#b3bfd7" stroke="#fff" stroke-width="0.5" stroke-linejoin="round"/>
<polygon points="814.7,536.9 827.6,535.8 840.5,534.7 847.0,540.1 840.5,544.4 829.8,545.5 819.0,542.3" fill="#b3bfd7" stroke="#fff" stroke-width="0.5" stroke-linejoin="round"/>
<polygon points="739.9,540.1 754.5,539.7 761.0,539.0 771.7,539.0 786.8,538.0 801.8,539.0 810.4,542.3 819.0,544.4 829.8,542.3 840.5,542.3 847.0,544.4 855.6,545.5 853.4,553.0 862.0,557.3 868.5,565.9 871.7,573.4 862.0,574.5 853.4,570.2 844.8,576.7 831.9,581.0 827.6,572.4 765.3,571.3 758.8,567.0 752.4,561.6 739.9,554.1" fill="#b3bfd7" stroke="#fff" stroke-width="0.5" stroke-linejoin="round"/>
<polygon points="809.4,549.8 819.0,547.6 829.8,548.7 836.2,551.3 833.0,559.5 832.4,566.3 825.5,561.6 815.8,559.9 809.4,556.2" fill="#fff" stroke="#fff" stroke-width="0.5" stroke-linejoin="round"/>
<polygon points="701.8,542.3 715.8,538.0 739.9,540.1 739.9,554.1 733.0,555.6 722.3,557.7 704.0,562.7 711.5,558.4 702.9,553.0 700.3,547.0" fill="#8aabe4" stroke="#fff" stroke-width="0.5" stroke-linejoin="round"/>
<polygon points="765.3,571.3 827.6,572.4 831.9,581.0 844.8,576.7 853.4,570.6 858.2,574.5 844.8,581.0 838.4,589.6 836.2,596.0 829.8,600.3 831.9,605.7 828.7,606.1 825.5,599.2 819.0,598.2 810.4,598.2 804.0,602.9 801.8,600.3 791.1,596.0 780.3,594.9 773.9,592.8 768.5,587.4 765.3,581.0" fill="#8aabe4" stroke="#fff" stroke-width="0.5" stroke-linejoin="round"/>
<polygon points="773.9,592.8 780.3,594.9 791.1,596.0 801.8,600.3 804.0,602.9 805.1,611.1 814.7,611.5 819.0,615.4 822.3,624.0 829.8,628.7 833.0,633.7 827.6,634.7 821.2,629.4 814.7,622.3 806.1,618.0 795.4,613.7 786.8,606.8 778.2,600.3 776.0,596.5" fill="#c9c9cd" stroke="#fff" stroke-width="0.5" stroke-linejoin="round"/>
<polygon points="776.5,594.9 781.4,600.3 786.3,608.5 784.6,609.4 779.9,602.0" fill="#c9c9cd" stroke="#fff" stroke-width="0.5" stroke-linejoin="round"/>
<polygon points="827.6,611.1 840.5,612.8 851.3,615.8 840.5,615.8 829.8,613.7" fill="#c9c9cd" stroke="#fff" stroke-width="0.5" stroke-linejoin="round"/>
<polygon points="831.9,629.4 840.5,627.2 853.4,627.2 868.5,633.7 877.1,639.0 890.0,647.6 898.6,653.0 896.5,660.5 890.0,669.1 887.8,675.6 879.2,679.9 874.9,686.3 866.3,692.8 862.0,699.2 855.6,707.8 851.3,716.5 850.2,725.1 844.8,725.1 838.4,718.6 840.5,703.5 842.7,686.3 844.8,673.4 838.4,660.5 831.9,651.9 829.4,643.3 831.5,636.9" fill="#c9c9cd" stroke="#fff" stroke-width="0.5" stroke-linejoin="round"/>
<polygon points="833.0,634.7 840.5,627.8 849.1,627.8 850.2,639.0 844.8,647.6 838.4,645.5 833.7,641.6" fill="#b3bfd7" stroke="#fff" stroke-width="0.5" stroke-linejoin="round"/>
<polygon points="841.6,651.9 849.1,643.3 857.7,639.0 870.6,636.9 877.1,640.1 890.0,647.6 898.6,653.0 896.5,660.5 890.0,669.1 887.8,675.6 879.2,679.9 874.9,686.3 869.6,688.5 866.3,682.0 861.0,675.6 854.5,667.0 848.1,661.6 842.3,657.3" fill="#b3bfd7" stroke="#fff" stroke-width="0.5" stroke-linejoin="round"/>
<polygon points="848.1,678.2 859.9,676.0 866.8,682.5 864.6,694.9 859.9,699.2 855.6,707.8 851.7,716.5 850.9,724.2 846.6,724.6 843.1,717.7 844.4,703.5 846.1,688.5" fill="#a3b6dd" stroke="#fff" stroke-width="0.5" stroke-linejoin="round"/>
<polygon points="937.2,581.0 941.5,574.5 952.3,569.8 958.7,563.8 958.7,550.9 969.5,542.3 984.5,537.5 995.7,540.1 1006.0,542.3 1016.8,542.3 1031.8,538.0 1053.3,535.4 1070.5,533.2 1092.0,530.4 1113.5,528.9 1135.1,531.1 1167.3,533.2 1199.6,537.5 1221.1,541.8 1234.4,544.4 1221.1,547.0 1208.2,550.9 1199.6,549.1 1191.4,553.4 1185.8,565.5 1179.1,555.6 1167.3,557.7 1159.1,566.3 1152.7,574.9 1139.8,579.2 1133.3,587.8 1134.4,596.5 1131.2,605.1 1122.6,611.5 1114.0,615.8 1109.7,626.6 1105.4,622.3 1101.1,618.0 1094.6,609.4 1090.3,600.8 1083.9,607.2 1075.3,613.7 1071.0,622.3 1068.4,630.9 1064.5,624.4 1060.2,613.7 1055.9,607.2 1049.0,602.9 1040.4,607.2 1031.8,611.5 1021.1,609.4 1012.9,609.4 1006.0,600.8 1000.0,596.5 995.3,590.0 991.0,583.5 984.5,587.4 976.3,585.7 969.9,581.4 963.0,579.2 956.6,583.1 948.0,587.8 938.3,587.8" fill="#c9c9cd" stroke="#fff" stroke-width="0.5" stroke-linejoin="round"/>
<polygon points="966.2,525.1 975.9,523.3 984.5,524.6 978.1,527.2 969.5,527.2" fill="#b3bfd7" stroke="#fff" stroke-width="0.5" stroke-linejoin="round"/>
<polygon points="920.0,521.8 929.7,521.2 926.5,524.0 920.0,525.1" fill="#c9c9cd" stroke="#fff" stroke-width="0.5" stroke-linejoin="round"/>
<polygon points="1029.7,533.7 1040.4,530.4 1051.2,529.4 1040.4,533.7 1032.9,536.9" fill="#b3bfd7" stroke="#fff" stroke-width="0.5" stroke-linejoin="round"/>
<polygon points="1089.9,523.3 1098.5,522.9 1101.7,525.1 1092.0,525.5" fill="#b3bfd7" stroke="#fff" stroke-width="0.5" stroke-linejoin="round"/>
<polygon points="1156.6,531.1 1167.3,530.6 1171.6,532.4 1160.9,532.8" fill="#b3bfd7" stroke="#fff" stroke-width="0.5" stroke-linejoin="round"/>
<polygon points="958.7,550.9 969.5,542.3 984.5,537.5 995.7,540.1 994.2,553.0 986.7,559.9 980.2,553.4 973.8,556.9 967.7,559.9 963.0,555.6" fill="#c9c9cd" stroke="#fff" stroke-width="0.5" stroke-linejoin="round"/>
<polygon points="937.2,581.0 941.5,574.5 952.3,569.8 960.9,563.8 971.6,559.9 984.5,559.9 993.1,555.6 997.8,561.6 1010.3,574.5 1002.8,581.0 991.0,581.4 984.5,587.4 976.3,585.7 969.9,581.4 963.0,579.2 956.6,583.1 948.0,587.8 938.3,587.8" fill="#c9c9cd" stroke="#fff" stroke-width="0.5" stroke-linejoin="round"/>
<polygon points="943.0,557.0 948.0,556.5 950.0,561.0 952.3,566.0 950.0,567.8 944.0,567.3 945.5,562.0" fill="#b3bfd7" stroke="#fff" stroke-width="0.5" stroke-linejoin="round"/>
<polygon points="936.7,562.0 940.0,561.0 941.6,564.0 939.5,566.3 936.5,565.5" fill="#c9c9cd" stroke="#fff" stroke-width="0.5" stroke-linejoin="round"/>
<polygon points="961.0,563.5 966.0,562.5 970.5,563.5 971.5,567.5 970.0,571.8 962.0,571.8 960.5,567.5" fill="#b3bfd7" stroke="#fff" stroke-width="0.5" stroke-linejoin="round"/>
<polygon points="962.0,575.3 967.0,576.0 971.0,580.0 977.0,584.0 975.3,585.8 970.0,582.5 965.0,579.3 961.8,577.2" fill="#b3bfd7" stroke="#fff" stroke-width="0.5" stroke-linejoin="round"/>
<polygon points="994.2,541.2 1006.0,542.3 1016.8,542.3 1031.8,538.0 1053.3,535.4 1070.5,533.2 1092.0,530.4 1113.5,528.9 1135.1,531.1 1167.3,533.2 1199.6,537.5 1221.1,541.8 1234.4,544.4 1221.1,547.0 1208.2,550.9 1199.6,549.1 1191.4,553.4 1185.8,565.5 1179.1,555.6 1167.3,557.7 1157.6,561.6 1154.4,564.2 1137.2,564.2 1126.5,566.3 1113.5,568.1 1100.6,567.2 1083.4,568.1 1070.5,564.2 1057.6,562.0 1040.4,564.2 1027.5,567.2 1021.1,572.8 1012.9,577.1 1008.2,570.6 1002.2,564.2 995.7,559.9 993.1,550.9" fill="#b3bfd7" stroke="#fff" stroke-width="0.5" stroke-linejoin="round"/>
<polygon points="1185.6,557.3 1194.2,551.9 1191.4,561.6 1186.7,567.0" fill="#b3bfd7" stroke="#fff" stroke-width="0.5" stroke-linejoin="round"/>
<polygon points="1021.1,572.8 1027.5,567.2 1040.4,564.2 1057.6,562.0 1070.5,564.2 1083.4,568.1 1077.0,574.9 1066.2,579.2 1060.2,583.5 1049.0,581.4 1038.3,579.2 1027.5,577.1" fill="#c9c9cd" stroke="#fff" stroke-width="0.5" stroke-linejoin="round"/>
<polygon points="1083.4,568.1 1100.6,567.2 1113.5,568.1 1126.9,571.5 1124.7,577.1 1109.7,580.3 1096.8,579.2 1086.0,575.8" fill="#c9c9cd" stroke="#fff" stroke-width="0.5" stroke-linejoin="round"/>
<polygon points="991.0,583.5 1006.0,582.7 1016.8,585.3 1023.2,579.2 1031.8,581.0 1040.4,581.4 1049.0,583.5 1060.9,583.5 1062.4,590.0 1059.8,600.3 1049.0,602.9 1040.4,607.2 1031.8,611.5 1021.1,609.4 1012.9,609.4 1006.0,600.8 1000.0,596.5 995.3,590.0" fill="#c9c9cd" stroke="#fff" stroke-width="0.5" stroke-linejoin="round"/>
<polygon points="1003.9,599.2 1012.5,594.9 1023.2,598.2 1029.7,606.8 1036.6,611.1 1030.1,615.4 1021.1,618.0 1015.1,620.1 1008.2,611.1" fill="#b3bfd7" stroke="#fff" stroke-width="0.5" stroke-linejoin="round"/>
<polygon points="1061.9,581.4 1070.5,574.9 1083.4,571.5 1086.0,575.8 1096.8,579.2 1109.7,580.3 1124.7,577.1 1126.9,571.5 1135.1,566.3 1148.0,564.2 1159.1,566.3 1152.7,574.9 1139.8,579.2 1133.3,587.8 1134.4,596.5 1131.2,605.1 1122.6,611.5 1111.8,611.5 1103.2,607.2 1096.8,602.9 1090.3,600.8 1079.6,598.6 1071.0,594.3 1064.5,587.8" fill="#b3bfd7" stroke="#fff" stroke-width="0.5" stroke-linejoin="round"/>
<polygon points="1137.2,585.3 1141.5,583.1 1143.7,591.7 1139.4,592.8" fill="#c9c9cd" stroke="#fff" stroke-width="0.5" stroke-linejoin="round"/>
<polygon points="1147.5,594.3 1154.4,587.8 1160.4,581.4 1164.3,574.5 1163.9,565.9 1167.7,579.2 1159.1,590.0 1150.1,596.5" fill="#b3bfd7" stroke="#fff" stroke-width="0.5" stroke-linejoin="round"/>
<polygon points="1057.6,596.5 1070.5,594.3 1079.6,598.6 1090.3,600.8 1083.9,607.2 1075.3,613.7 1071.0,622.3 1068.4,630.9 1064.5,624.4 1060.2,613.7 1055.9,607.2" fill="#c9c9cd" stroke="#fff" stroke-width="0.5" stroke-linejoin="round"/>
<polygon points="1090.3,600.8 1096.8,602.9 1103.2,607.2 1109.7,611.5 1114.0,615.8 1109.7,626.6 1105.4,622.3 1101.1,618.0 1098.9,613.7 1094.6,609.4" fill="#c9c9cd" stroke="#fff" stroke-width="0.5" stroke-linejoin="round"/>
<polygon points="1094.2,636.9 1098.9,634.7 1107.5,643.3 1114.0,651.9 1109.7,654.5 1103.2,648.1" fill="#c9c9cd" stroke="#fff" stroke-width="0.5" stroke-linejoin="round"/>
<polygon points="1114.6,639.0 1122.2,634.3 1129.0,636.9 1126.9,648.1 1118.3,648.1" fill="#c9c9cd" stroke="#fff" stroke-width="0.5" stroke-linejoin="round"/>
<polygon points="1109.2,653.7 1124.3,655.8 1126.9,658.8 1109.2,658.4" fill="#c9c9cd" stroke="#fff" stroke-width="0.5" stroke-linejoin="round"/>
<polygon points="1130.8,643.3 1137.2,641.2 1135.1,651.9 1131.8,649.8" fill="#c9c9cd" stroke="#fff" stroke-width="0.5" stroke-linejoin="round"/>
<polygon points="1152.7,647.6 1163.4,647.6 1174.2,656.2 1176.3,658.8 1163.4,656.7 1154.8,652.4" fill="#c9c9cd" stroke="#fff" stroke-width="0.5" stroke-linejoin="round"/>
<polygon points="1130.8,617.5 1137.2,621.8 1139.8,634.7 1133.3,630.9" fill="#c9c9cd" stroke="#fff" stroke-width="0.5" stroke-linejoin="round"/>
<polygon points="926.5,606.8 932.9,598.2 941.5,592.8 952.3,589.6 963.0,590.9 975.9,594.3 991.0,595.2 1001.7,598.2 1006.0,604.6 1010.3,611.1 1014.6,620.1 1023.2,624.4 1027.5,626.6 1023.2,635.2 1016.8,641.6 1010.3,650.2 1010.3,661.0 1003.9,673.9 995.3,684.6 986.7,693.2 980.2,695.4 975.9,691.1 971.6,682.5 969.5,669.6 967.3,658.8 965.2,648.1 963.0,637.3 954.4,636.9 943.7,634.7 932.9,630.4 926.5,622.3 925.4,613.7" fill="#c9c9cd" stroke="#fff" stroke-width="0.5" stroke-linejoin="round"/>
<polygon points="1021.1,665.3 1025.4,662.7 1023.7,675.6 1018.9,682.0 1016.8,676.0" fill="#c9c9cd" stroke="#fff" stroke-width="0.5" stroke-linejoin="round"/>
<polygon points="1122.2,678.2 1132.9,673.9 1143.7,667.4 1152.3,665.3 1156.6,661.8 1163.0,665.3 1165.2,661.8 1169.9,665.3 1178.5,680.3 1180.6,688.9 1176.3,697.5 1169.9,701.8 1161.3,699.7 1156.6,695.4 1148.0,691.1 1135.1,693.2 1126.5,695.4 1123.2,688.9" fill="#b3bfd7" stroke="#fff" stroke-width="0.5" stroke-linejoin="round"/>
<polygon points="1167.3,704.6 1172.0,704.6 1170.5,708.3" fill="#b3bfd7" stroke="#fff" stroke-width="0.5" stroke-linejoin="round"/>
<polygon points="1199.6,712.6 1208.2,707.8 1216.8,699.7 1218.1,702.7 1210.8,710.4 1202.2,713.9" fill="#c9c9cd" stroke="#fff" stroke-width="0.5" stroke-linejoin="round"/>
<ellipse cx="1002.6" cy="578.9" rx="10.2" ry="3.3" fill="#fff"/>
<ellipse cx="1026.2" cy="581" rx="3.6" ry="7.4" fill="#fff"/>
<polygon points="979.0,547.0 985.0,545.0 988.0,549.0 985.0,553.0 982.0,556.0 978.0,560.0 971.5,560.5 974.0,557.0 979.0,553.0" fill="#fff" />
<rect x="1225.0" y="681.0" width="17.0" height="17.0" fill="#fff" rx="2.5" stroke="#c8c8c8" stroke-width="1"/>
<rect x="1225.0" y="706.0" width="17.0" height="17.0" fill="#fff" rx="2.5" stroke="#c8c8c8" stroke-width="1"/>
<path d="M1228.8,689.5 H1238.2 M1233.5,684.8 V694.2" stroke="#111" stroke-width="2"/>
<path d="M1228.8,714.5 H1238.2" stroke="#111" stroke-width="2"/>
<text x="675.4" y="752.3" font-size="14.50" fill="#555">0</text>
<rect x="686.0" y="744.8" width="189.5" height="5.6" fill="url(#gLegend)"/>
<text x="880.0" y="752.3" font-size="14.50" fill="#555">1M</text>
<rect x="674.7" y="782.7" width="580.5" height="80.0" fill="#fff" stroke="#dedede" stroke-width="1"/>
<rect x="675.2" y="828.8" width="579.5" height="1.5" fill="#dedede"/>
<text x="686.0" y="813.0" font-size="18.76" fill="#555">Country</text>
<text x="885.0" y="813.0" font-size="17.52" fill="#555">Requests</text>
<text x="981.2" y="813.0" font-size="16.48" fill="#555">WAF</text>
<text x="1039.2" y="813.0" font-size="17.49" fill="#555">Cached</text>
<text x="1121.5" y="813.0" font-size="18.59" fill="#555">Origin</text>
<text x="1192.7" y="813.0" font-size="18.73" fill="#555">Traffic</text>
<path d="M859.1,804.5 L862.6,799.5 L866.1,804.5 Z M859.1,807.5 L862.6,812.5 L866.1,807.5 Z" fill="#d9d9d9"/>
<path d="M1012.5,804.5 L1016,799.5 L1019.5,804.5 Z M1012.5,807.5 L1016,812.5 L1019.5,807.5 Z" fill="#d9d9d9"/>
<path d="M1094.5,804.5 L1098,799.5 L1101.5,804.5 Z M1094.5,807.5 L1098,812.5 L1101.5,807.5 Z" fill="#d9d9d9"/>
<path d="M1166.5,804.5 L1170,799.5 L1173.5,804.5 Z M1166.5,807.5 L1170,812.5 L1173.5,807.5 Z" fill="#d9d9d9"/>
<path d="M1239.5,804.5 L1243,799.5 L1246.5,804.5 Z M1239.5,807.5 L1243,812.5 L1246.5,807.5 Z" fill="#d9d9d9"/>
<path d="M954.5,806.5 L962,806.5 L958.2,812 Z" fill="#4a8ae0"/>
<rect x="685.0" y="842.0" width="15.0" height="3.0" fill="#3e5da8"/><rect x="700.0" y="842.0" width="17.0" height="3.0" fill="#e2574a"/>
<g clip-path="url(#cPlot)">
<rect x="1331.1" y="100.0" width="1.0" height="174.0" fill="#e9e9e9"/>
<rect x="1367.6" y="100.0" width="1.0" height="174.0" fill="#e9e9e9"/>
<rect x="1404.2" y="100.0" width="1.0" height="174.0" fill="#e9e9e9"/>
<rect x="1440.8" y="100.0" width="1.0" height="174.0" fill="#e9e9e9"/>
<rect x="1477.3" y="100.0" width="1.0" height="174.0" fill="#e9e9e9"/>
<rect x="1513.8" y="100.0" width="1.0" height="174.0" fill="#e9e9e9"/>
<rect x="1550.4" y="100.0" width="1.0" height="174.0" fill="#e9e9e9"/>
<rect x="1586.9" y="100.0" width="1.0" height="174.0" fill="#e9e9e9"/>
<rect x="1623.5" y="100.0" width="1.0" height="174.0" fill="#e9e9e9"/>
<rect x="1660.0" y="100.0" width="1.0" height="174.0" fill="#e9e9e9"/>
<rect x="1696.6" y="100.0" width="1.0" height="174.0" fill="#e9e9e9"/>
<rect x="1733.1" y="100.0" width="1.0" height="174.0" fill="#e9e9e9"/>
<rect x="1769.7" y="100.0" width="1.0" height="174.0" fill="#e9e9e9"/>
<rect x="1806.2" y="100.0" width="1.0" height="174.0" fill="#e9e9e9"/>
<rect x="1842.8" y="100.0" width="1.0" height="174.0" fill="#e9e9e9"/>
<rect x="1331.6" y="114.0" width="512.0" height="1.0" fill="#e8e8e8"/>
<rect x="1331.6" y="167.0" width="512.0" height="1.0" fill="#e8e8e8"/>
<rect x="1331.6" y="220.0" width="512.0" height="1.0" fill="#e8e8e8"/>
<polygon points="1331.6,214.6 1368.1,205.2 1404.7,199.9 1441.2,181.4 1477.8,203.0 1514.3,212.1 1550.9,185.2 1587.4,186.2 1624.0,218.8 1660.5,130.0 1697.1,60.0 1733.6,60.0 1770.2,60.0 1806.8,60.0 1843.3,60.0 1843.3,201.5 1806.8,178.5 1770.2,149.6 1733.6,118.0 1697.1,179.5 1660.5,199.5 1624.0,249.0 1587.4,236.3 1550.9,231.7 1514.3,253.1 1477.8,246.2 1441.2,240.5 1404.7,250.0 1368.1,255.2 1331.6,252.1" fill="#fd5a4b" />
<polygon points="1331.6,252.1 1368.1,255.2 1404.7,250.0 1441.2,240.5 1477.8,246.2 1514.3,253.1 1550.9,231.7 1587.4,236.3 1624.0,249.0 1660.5,199.5 1697.1,179.5 1733.6,118.0 1770.2,149.6 1806.8,178.5 1843.3,201.5 1843.3,206.5 1806.8,183.0 1770.2,153.6 1733.6,122.0 1697.1,183.0 1660.5,202.0 1624.0,251.0 1587.4,238.8 1550.9,234.2 1514.3,255.6 1477.8,248.7 1441.2,243.0 1404.7,252.5 1368.1,257.7 1331.6,254.6" fill="#f58a76" />
<polygon points="1331.6,254.6 1368.1,257.7 1404.7,252.5 1441.2,243.0 1477.8,248.7 1514.3,255.6 1550.9,234.2 1587.4,238.8 1624.0,251.0 1660.5,202.0 1697.1,183.0 1733.6,122.0 1770.2,153.6 1806.8,183.0 1843.3,206.5 1843.3,273.8 1806.8,273.8 1770.2,273.8 1733.6,273.8 1697.1,273.8 1660.5,273.8 1624.0,273.8 1587.4,273.8 1550.9,273.8 1514.3,273.8 1477.8,273.8 1441.2,273.8 1404.7,273.8 1368.1,273.8 1331.6,273.8" fill="#80e08f" />
<rect x="1331.1" y="127.0" width="1.0" height="147.0" fill="#000" opacity="0.035"/>
<rect x="1367.6" y="127.0" width="1.0" height="147.0" fill="#000" opacity="0.035"/>
<rect x="1404.2" y="127.0" width="1.0" height="147.0" fill="#000" opacity="0.035"/>
<rect x="1440.8" y="127.0" width="1.0" height="147.0" fill="#000" opacity="0.035"/>
<rect x="1477.3" y="127.0" width="1.0" height="147.0" fill="#000" opacity="0.035"/>
<rect x="1513.8" y="127.0" width="1.0" height="147.0" fill="#000" opacity="0.035"/>
<rect x="1550.4" y="127.0" width="1.0" height="147.0" fill="#000" opacity="0.035"/>
<rect x="1586.9" y="127.0" width="1.0" height="147.0" fill="#000" opacity="0.035"/>
<rect x="1623.5" y="127.0" width="1.0" height="147.0" fill="#000" opacity="0.035"/>
<rect x="1660.0" y="127.0" width="1.0" height="147.0" fill="#000" opacity="0.035"/>
<rect x="1696.6" y="127.0" width="1.0" height="147.0" fill="#000" opacity="0.035"/>
<rect x="1733.1" y="127.0" width="1.0" height="147.0" fill="#000" opacity="0.035"/>
<rect x="1769.7" y="127.0" width="1.0" height="147.0" fill="#000" opacity="0.035"/>
<rect x="1806.2" y="127.0" width="1.0" height="147.0" fill="#000" opacity="0.035"/>
<rect x="1842.8" y="127.0" width="1.0" height="147.0" fill="#000" opacity="0.035"/>
</g>
<rect x="1842.6" y="127.0" width="1.4" height="147.0" fill="#333"/>
<text x="1847.5" y="172.6" font-size="14.60" fill="#222">20000000</text>
<text x="1847.5" y="225.7" font-size="14.60" fill="#222">10000000</text>
<text x="1847.5" y="278.0" font-size="14.20" fill="#111" font-weight="bold">0</text>
<text x="1331.6" y="293.2" font-size="15.20" fill="#222" text-anchor="middle">01 Apr</text>
<text x="1368.1" y="293.2" font-size="15.20" fill="#222" text-anchor="middle">03 Apr</text>
<text x="1404.7" y="293.2" font-size="15.20" fill="#222" text-anchor="middle">05 Apr</text>
<text x="1441.2" y="293.2" font-size="15.20" fill="#222" text-anchor="middle">07 Apr</text>
<text x="1477.8" y="293.2" font-size="15.20" fill="#222" text-anchor="middle">09 Apr</text>
<text x="1514.3" y="293.2" font-size="15.20" fill="#222" text-anchor="middle">11 Apr</text>
<text x="1550.9" y="293.2" font-size="15.20" fill="#222" text-anchor="middle">13 Apr</text>
<text x="1587.4" y="293.2" font-size="15.20" fill="#222" text-anchor="middle">15 Apr</text>
<text x="1624.0" y="293.2" font-size="15.20" fill="#222" text-anchor="middle">17 Apr</text>
<text x="1660.5" y="293.2" font-size="15.20" fill="#222" text-anchor="middle">19 Apr</text>
<text x="1697.1" y="293.2" font-size="15.20" fill="#222" text-anchor="middle">21 Apr</text>
<text x="1733.6" y="293.2" font-size="15.20" fill="#222" text-anchor="middle">23 Apr</text>
<text x="1770.2" y="293.2" font-size="15.20" fill="#222" text-anchor="middle">25 Apr</text>
<text x="1806.8" y="293.2" font-size="15.20" fill="#222" text-anchor="middle">27 Apr</text>
<text x="1843.3" y="293.2" font-size="15.20" fill="#222" text-anchor="middle">29 Apr</text>
<text x="1319.3" y="371.5" font-size="17.93" fill="#5a5a5a" font-weight="bold">CACHING STATUSES</text>
<path d="M1348.34,516.98 A99.6,99.6 0 1 1 1449.21,605.28 L1448.71,579.19 A73.5,73.5 0 1 0 1374.27,514.02 Z" fill="#4fd868" />
<path d="M1444.70,598.86 A93.2,93.2 0 0 1 1440.47,598.65 L1441.92,579.00 A73.5,73.5 0 0 0 1445.25,579.17 Z" fill="#c9c9ce" />
<path d="M1437.23,598.35 A93.2,93.2 0 0 1 1363.39,546.26 L1381.13,537.69 A73.5,73.5 0 0 0 1439.36,578.77 Z" fill="#fb2a00" />
<path d="M1361.77,542.71 A93.2,93.2 0 0 1 1359.95,538.19 L1378.41,531.32 A73.5,73.5 0 0 0 1379.85,534.89 Z" fill="#ff5a50" />
<path d="M1358.66,534.50 A93.2,93.2 0 0 1 1355.63,522.52 L1375.01,518.97 A73.5,73.5 0 0 0 1377.40,528.41 Z" fill="#ffcc00" />
<path d="M1378.89,514.71 A69.0,69.0 0 1 1 1446.94,574.70 L1446.95,572.00 A66.3,66.3 0 1 0 1381.57,514.35 Z" fill="#4fd868" />
<text x="1447.9" y="498.9" font-size="23.50" fill="#111" font-weight="bold" text-anchor="middle" letter-spacing="1.3" stroke="#111" stroke-width="1.2">Hits</text>
<text x="1447.3" y="527.2" font-size="19.60" fill="#222" text-anchor="middle">82%</text>
<rect x="1609.5" y="391.0" width="1.2" height="234.0" fill="#e3e3e3"/>
<rect x="1610.0" y="437.3" width="302.0" height="1.4" fill="#e6e6e6"/>
<rect x="1610.0" y="484.3" width="302.0" height="1.4" fill="#e6e6e6"/>
<rect x="1610.0" y="531.1" width="302.0" height="1.4" fill="#e6e6e6"/>
<rect x="1610.0" y="577.8" width="302.0" height="1.4" fill="#e6e6e6"/>
<rect x="1614.2" y="401.9" width="18.8" height="18.5" fill="#4cd964" rx="4.5"/>
<text x="1637.8" y="420.6" font-size="18.58" fill="#505050">Hits</text>
<text x="1907.2" y="420.6" font-size="18.20" fill="#555" text-anchor="end">82%</text>
<rect x="1614.2" y="448.6" width="18.8" height="18.5" fill="#ffcc00" rx="4.5"/>
<text x="1637.8" y="468.0" font-size="18.05" fill="#505050">Expired</text>
<text x="1907.2" y="468.0" font-size="18.20" fill="#555" text-anchor="end">1%</text>
<rect x="1614.2" y="495.6" width="18.8" height="18.5" fill="#ff5b50" rx="4.5"/>
<text x="1637.8" y="515.0" font-size="17.61" fill="#505050">Misses</text>
<text x="1907.2" y="515.0" font-size="18.20" fill="#555" text-anchor="end">0%</text>
<rect x="1614.2" y="542.9" width="18.8" height="18.5" fill="#fb2a00" rx="4.5"/>
<text x="1637.8" y="561.7" font-size="18.19" fill="#505050">Not cached</text>
<text x="1907.2" y="561.7" font-size="18.20" fill="#555" text-anchor="end">16%</text>
<rect x="1614.2" y="590.1" width="18.8" height="18.5" fill="#c9c9ce" rx="4.5"/>
<text x="1637.8" y="608.3" font-size="17.09" fill="#505050">Passed</text>
<text x="1907.2" y="608.3" font-size="18.20" fill="#555" text-anchor="end">0%</text>
<text x="1320.6" y="671.7" font-size="17.58" fill="#5a5a5a" font-weight="bold">TOP NOT CACHED</text>
<rect x="1607.7" y="704.7" width="292.7" height="42.4" fill="#fff" stroke="#cfcfcf" stroke-width="1"/>
<rect x="1607.7" y="704.7" width="127.9" height="42.4" fill="#5495f3"/>
<rect x="1806.7" y="705.0" width="1.0" height="42.0" fill="#cfcfcf"/>
<text x="1671.7" y="733.2" font-size="18.19" fill="#fff" text-anchor="middle">Not cached</text>
<text x="1771.4" y="733.2" font-size="17.81" fill="#555" text-anchor="middle">Miss</text>
<text x="1853.3" y="733.2" font-size="17.15" fill="#555" text-anchor="middle">Passed</text>
<text x="1330.4" y="777.5" font-size="17.44" fill="#444" font-weight="bold">Path</text>
<text x="1737.7" y="777.5" font-size="17.10" fill="#444" font-weight="bold">Requests</text>
<text x="1836.3" y="777.5" font-size="17.50" fill="#444" font-weight="bold">%</text>
<rect x="1319.0" y="793.3" width="581.0" height="2.2" fill="#d9d9d9"/>
<text x="1329.1" y="824.4" font-size="18.58" fill="#555">/index.php?action=ajaxCartFlyoutItems</text>
<text x="1737.5" y="824.4" font-size="17.37" fill="#555">38k</text>
<text x="1836.0" y="824.4" font-size="17.48" fill="#555">88.38%</text>
<rect x="1319.0" y="841.8" width="581.0" height="1.2" fill="#e6e6e6"/>
<rect x="662.0" y="845.0" width="1251.0" height="210.0" fill="#fff"/>
</g>
</svg>
</body></html>
